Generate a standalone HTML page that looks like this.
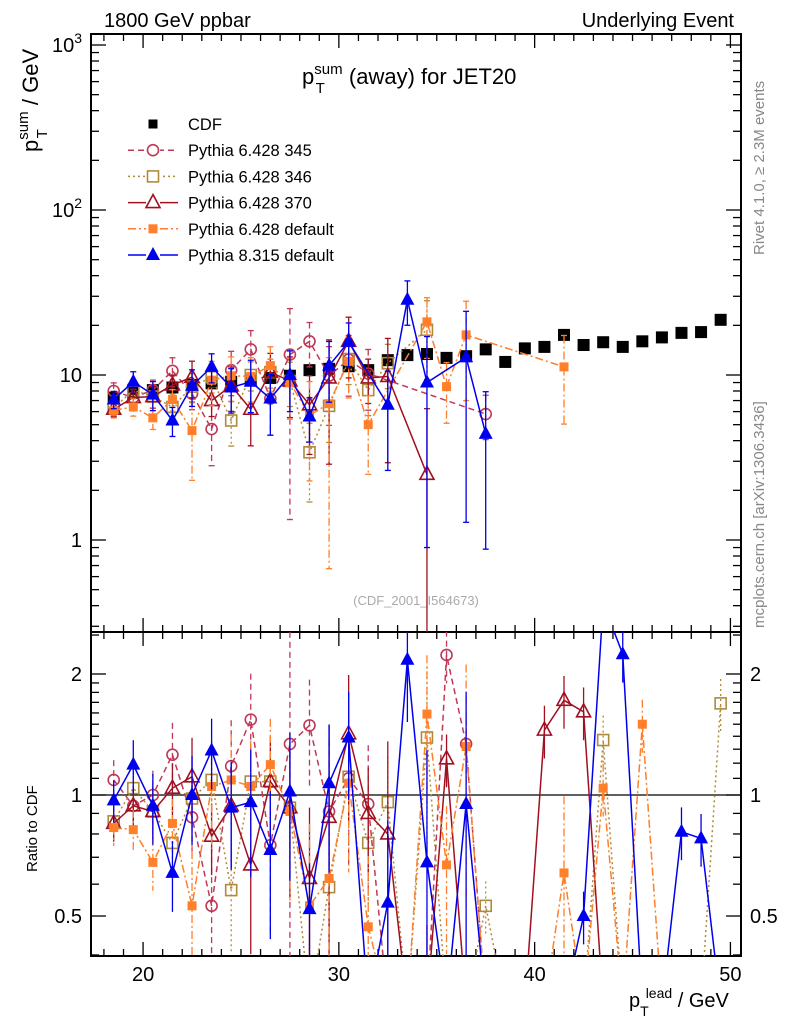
<!DOCTYPE html>
<html><head><meta charset="utf-8">
<style>
html,body{margin:0;padding:0;background:#fff;width:786px;height:1024px;overflow:hidden;}
svg{display:block;font-family:"Liberation Sans",sans-serif;}
</style></head>
<body>
<svg id="chart" width="786" height="1024" viewBox="0 0 786 1024" xmlns="http://www.w3.org/2000/svg">
<defs>
<clipPath id="cm"><rect x="91" y="34" width="650" height="598"/></clipPath>
<clipPath id="cr"><rect x="91" y="632" width="650" height="324"/></clipPath>
</defs>
<text x="104" y="27" font-size="20">1800 GeV ppbar</text>
<text x="734" y="27" font-size="20" text-anchor="end">Underlying Event</text>
<text x="302" y="84" font-size="22">p<tspan font-size="15" dy="-10">sum</tspan><tspan font-size="15" dx="-27" dy="19">T</tspan><tspan dx="18" dy="-9"> (away) for JET20</tspan></text>
<text transform="translate(38,152) rotate(-90)" font-size="22">p<tspan font-size="15" dy="-10">sum</tspan><tspan font-size="15" dx="-27" dy="19">T</tspan><tspan dx="18" dy="-9"> / GeV</tspan></text>
<text transform="translate(37,872) rotate(-90)" font-size="15">Ratio to CDF</text>
<text x="629" y="1007" font-size="20">p<tspan font-size="14" dy="9">T</tspan><tspan font-size="14" dx="-3" dy="-18">lead</tspan><tspan dy="9"> / GeV</tspan></text>
<text transform="translate(764,255) rotate(-90)" font-size="15" fill="#888">Rivet 4.1.0, ≥ 2.3M events</text>
<text transform="translate(764,628) rotate(-90)" font-size="15" fill="#888">mcplots.cern.ch [arXiv:1306.3436]</text>
<text x="416" y="605" font-size="13" fill="#aaa" text-anchor="middle">(CDF_2001_I564673)</text>
<g id="axes"></g>
<g id="mainplot" clip-path="url(#cm)"></g>
<g id="ratioplot" clip-path="url(#cr)"></g>
<g id="legend"></g>
</svg>
<script>
const bins = [18.5,19.5,20.5,21.5,22.5,23.5,24.5,25.5,26.5,27.5,28.5,29.5,30.5,31.5,32.5,33.5,34.5,35.5,36.5,37.5,38.5,39.5,40.5,41.5,42.5,43.5,44.5,45.5,46.5,47.5,48.5,49.5];
const cdf = [7.3,7.8,8.1,8.4,8.7,8.9,9.1,9.3,9.6,9.9,10.7,10.9,11.3,10.7,12.3,13.2,13.4,12.7,13.0,14.3,12.0,14.5,14.8,17.5,15.2,15.8,14.8,16.0,16.9,18.0,18.2,21.6];
const cdfErr = [0.4,0.4,0.4,0.4,0.4,0.4,0.4,0.4,0.5,0.5,0.5,0.5,0.5,0.5,0.6,0.6,0.6,0.6,0.6,0.6,0.6,0.6,0.7,0.8,0.7,0.7,0.7,0.7,0.8,0.8,0.8,0.9];
const p345 = [8.0,7.3,8.1,10.6,7.7,4.7,10.7,14.3,7.2,13.3,16.0,9.9,12.4,10.2,null,null,null,null,null,5.8];
const p345Err = [0.12,0.12,0.15,0.2,0.2,0.4,0.3,0.3,0.4,0.9,0.3,0.5,0.4,0.4,0,0,0,0,0,0.3];
const p346 = [6.3,8.1,7.4,6.4,8.5,9.7,5.3,10.0,10.4,9.2,3.4,6.5,12.5,8.1,11.8,null,18.8];
const p346Err = [0.1,0.1,0.15,0.2,0.2,0.2,0.3,0.2,0.2,0.3,0.5,0.4,0.3,0.3,0.3,0,0.5];
const p370 = [6.2,7.3,7.4,8.7,9.7,7.0,8.6,6.2,10.4,9.2,6.6,9.6,16.0,9.6,9.8,null,2.5];
const p370Err = [0.1,0.12,0.15,0.15,0.25,0.2,0.3,0.4,0.3,0.4,0.5,0.7,0.4,0.3,0.7,0,1.5];
const pdef = [6.1,6.4,5.5,7.1,4.6,9.3,9.9,9.8,11.4,9.0,5.7,6.7,12.1,5.0,null,null,21.0,8.5,17.5,null,null,null,null,11.2];
const pdefErr = [0.1,0.12,0.15,0.15,0.5,0.3,0.3,0.3,0.3,0.4,0.6,0.9,0.4,0.5,0,0,0.4,0.4,0.6,0,0,0,0,0.55];
const p8 = [7.1,9.1,7.6,5.3,8.6,11.2,8.4,9.1,7.2,10.0,5.6,11.4,15.9,null,6.6,28.6,9.0,null,12.8,4.4];
const p8Err = [0.12,0.15,0.2,0.2,0.25,0.2,0.3,0.35,0.4,0.4,0.3,0.4,0.3,0,0.6,0.3,0.9,0,0.9,0.8];
const r345 = [1.09,0.94,1.0,1.26,0.88,0.53,1.18,1.54,0.75,1.34,1.49,0.91,1.1,0.95,0,0,0,2.23,1.34,0];
const r346 = [0.86,1.04,0.91,0.76,0.98,1.09,0.58,1.08,1.08,0.93,0.3,0.59,1.11,0.76,0.96,0,1.39,0,0,0.53,0,0,0,0,0,1.37,0,0,0,0,0,1.69];
const r370 = [0.85,0.94,0.91,1.04,1.11,0.79,0.94,0.67,1.08,0.93,0.62,0.88,1.42,0.9,0.8,0,0.19,1.23,0,0,0,0,1.45,1.72,1.61,0];
const rdef = [0.83,0.82,0.68,0.85,0.53,1.05,1.09,1.05,1.19,0.91,0.53,0.62,1.07,0.47,0,0,1.59,0.67,1.32,0,0,0,0,0.64,0,1.04,0,1.5,0];
const r8 = [0.97,1.19,0.94,0.64,1.0,1.29,0.93,0.96,0.73,1.02,0.52,1.07,1.39,0,0.54,2.17,0.68,0,0.95,0,0,0,0,0,0.5,3.0,2.24,0,0,0.81,0.78,0];
const xTicks = [20,30,40,50];
const yTicksMain = [1,10,100,1000];
const yTickLabelsMain = ["1","10","10²","10³"];
const yTicksRatio = [0.5,1,2];

const NS="http://www.w3.org/2000/svg";
const X0=91,X1=741,MT=34,MB=632,RB=956;
const xmin=17.34,xmax=50.54;
const sx=v=>X0+(v-xmin)/(xmax-xmin)*(X1-X0);
const sy=v=>540-165*Math.log10(Math.max(v,0.2));
const sr=v=>795-402*Math.log10(Math.min(Math.max(v,0.3),3.2));
function mk(tag,attrs,parent){const e=document.createElementNS(NS,tag);for(const k in attrs)e.setAttribute(k,attrs[k]);parent.appendChild(e);return e;}
const axes=document.getElementById('axes'),mainG=document.getElementById('mainplot'),ratioG=document.getElementById('ratioplot'),leg=document.getElementById('legend');

let f1=mk('rect',{x:X0,y:MT,width:X1-X0,height:MB-MT,fill:'none',stroke:'#000','stroke-width':2},axes);


let f2=mk('rect',{x:X0,y:MB,width:X1-X0,height:RB-MB,fill:'none',stroke:'#000','stroke-width':2},axes);


let one=mk('line',{x1:X0,x2:X1,y1:sr(1),y2:sr(1),stroke:'#000','stroke-width':1.3},axes);



for(let v=18;v<=50;v++){
  const major=v%10===0, L=major?14:7, x=sx(v);
  [[MT,1],[MB,-1],[MB,1],[RB,-1]].forEach(([y,d])=>mk('line',{x1:x,x2:x,y1:y,y2:y+d*L,stroke:'#000','stroke-width':1.3},axes));
}
xTicks.forEach(v=>{const t=mk('text',{x:sx(v),y:981,'font-size':20,'text-anchor':'middle'},axes);t.textContent=v;

});
for(let d=0;d<=3;d++){for(let m=1;m<=9;m++){const v=m*Math.pow(10,d);const y=sy(v);if(y<MT||y>MB)continue;const L=m===1?15:8;
 mk('line',{x1:X0,x2:X0+L,y1:y,y2:y,stroke:'#000','stroke-width':1.3},axes);mk('line',{x1:X1,x2:X1-L,y1:y,y2:y,stroke:'#000','stroke-width':1.3},axes);}}
for(let m=3;m<=9;m++){const y=sy(m/10);if(y<MB){mk('line',{x1:X0,x2:X0+8,y1:y,y2:y,stroke:'#000','stroke-width':1.3},axes);mk('line',{x1:X1,x2:X1-8,y1:y,y2:y,stroke:'#000','stroke-width':1.3},axes);}}
yTicksMain.forEach((v,i)=>{const t=mk('text',{x:82,y:sy(v)+7,'font-size':20,'text-anchor':'end'},axes);
 const s=yTickLabelsMain[i];
 if(s.length>2){t.textContent='10';const ts=mk('tspan',{'font-size':14,dy:-9},t);ts.textContent=s==='10²'?'2':'3';}else t.textContent=s;
 
 });
[0.4,0.5,0.6,0.7,0.8,0.9,1,1.1,1.2,1.3,1.4,1.5,1.6,1.7,1.8,1.9,2,2.5].forEach(v=>{const y=sr(v);const L=(v===0.5||v===1||v===2)?15:8;
 mk('line',{x1:X0,x2:X0+L,y1:y,y2:y,stroke:'#000','stroke-width':1.3},axes);mk('line',{x1:X1,x2:X1-L,y1:y,y2:y,stroke:'#000','stroke-width':1.3},axes);});
yTicksRatio.forEach(v=>{[[82,'end'],[750,'start']].forEach(([x,a])=>{const t=mk('text',{x:x,y:sr(v)+7,'font-size':20,'text-anchor':a},axes);t.textContent=v;
 
 });});

function marker(g,type,x,y,col){
  const s=6;
  if(type==='fsq') return mk('rect',{x:x-s,y:y-s,width:2*s,height:2*s,fill:col},g);
  if(type==='fsqs') return mk('rect',{x:x-4.5,y:y-4.5,width:9,height:9,fill:col},g);
  if(type==='osq') return mk('rect',{x:x-5.5,y:y-5.5,width:11,height:11,fill:'none',stroke:col,'stroke-width':1.6},g);
  if(type==='oc') return mk('circle',{cx:x,cy:y,r:5.5,fill:'none',stroke:col,'stroke-width':1.6},g);
  if(type==='otri') return mk('polygon',{points:`${x},${y-8} ${x-7},${y+5} ${x+7},${y+5}`,fill:'none',stroke:col,'stroke-width':1.6},g);
  if(type==='ftri') return mk('polygon',{points:`${x},${y-8} ${x-7},${y+5} ${x+7},${y+5}`,fill:col},g);
}
const series=[
 {name:'pythia-6428-345',label:'Pythia 6.428 345',col:'#c03858',dash:'6,4',mk:'oc',main:p345,err:p345Err,ratio:r345},
 {name:'pythia-6428-346',label:'Pythia 6.428 346',col:'#b08a3c',dash:'2,3',mk:'osq',main:p346,err:p346Err,ratio:r346},
 {name:'pythia-6428-370',label:'Pythia 6.428 370',col:'#a01020',dash:'',mk:'otri',main:p370,err:p370Err,ratio:r370},
 {name:'pythia-6428-default',label:'Pythia 6.428 default',col:'#ff7f2a',dash:'8,3,2,3',mk:'fsqs',main:pdef,err:pdefErr,ratio:rdef},
 {name:'pythia-8315-default',label:'Pythia 8.315 default',col:'#0000ee',dash:'',mk:'ftri',main:p8,err:p8Err,ratio:r8}
];
const cg=mk('g',{},mainG);


cdf.forEach((v,i)=>{const x=sx(bins[i]);mk('line',{x1:x,x2:x,y1:sy(v+cdfErr[i]),y2:sy(v-cdfErr[i]),stroke:'#000','stroke-width':1.3},cg);
 const m=marker(cg,'fsq',x,sy(v),'#000');
 
 });

series.forEach(s=>{
 const g=mk('g',{},mainG);
 
 
 const pts=[];
 s.main.forEach((v,i)=>{if(v==null)return;const x=sx(bins[i]);pts.push(x+','+sy(v));
   const e=s.err[i]||0;const lo=v*(1-e);
   mk('line',{x1:x,x2:x,y1:sy(v*(1+e)),y2:sy(lo),stroke:s.col,'stroke-width':1.3,'stroke-dasharray':s.dash},g);
   mk('line',{x1:x-3,x2:x+3,y1:sy(v*(1+e)),y2:sy(v*(1+e)),stroke:s.col,'stroke-width':1.3},g);
   mk('line',{x1:x-3,x2:x+3,y1:sy(lo),y2:sy(lo),stroke:s.col,'stroke-width':1.3},g);});
 mk('polyline',{points:pts.join(' '),fill:'none',stroke:s.col,'stroke-width':1.5,'stroke-dasharray':s.dash},g);
 s.main.forEach((v,i)=>{if(v==null)return;const m=marker(g,s.mk,sx(bins[i]),sy(v),s.col);
   
   });
 const rg=mk('g',{},ratioG);
 
 
 const rp=s.ratio.map((v,i)=>sx(bins[i])+','+sr(v));
 mk('polyline',{points:rp.join(' '),fill:'none',stroke:s.col,'stroke-width':1.5,'stroke-dasharray':s.dash},rg);
 s.ratio.forEach((v,i)=>{if(v<=0)return;const x=sx(bins[i]);const e=(s.err[i]||0.15);
   mk('line',{x1:x,x2:x,y1:sr(v*(1+e)),y2:sr(v*(1-e)),stroke:s.col,'stroke-width':1.3,'stroke-dasharray':s.dash},rg);
   if(v<0.38||v>2.6)return;
   const m=marker(rg,s.mk,x,sr(v),s.col);
   
   });
});

const rows=[{label:'CDF',col:'#000',dash:null,mk:'fsq',name:'cdf'}].concat(series);
rows.forEach((r,i)=>{const y=124+i*26.2;const g=mk('g',{},leg);
 
 
 if(r.dash!==null)mk('line',{x1:128,x2:178,y1:y,y2:y,stroke:r.col,'stroke-width':1.5,'stroke-dasharray':r.dash},g);
 if(r.dash!==null){mk('rect',{x:146,y:y-7,width:14,height:14,fill:'#fff'},g);}
 marker(g,r.mk==='fsq'?'fsqs':r.mk,153,y,r.col);
 const t=mk('text',{x:188,y:y+6,'font-size':16.5},g);t.textContent=r.label;});
</script>
</body></html>
